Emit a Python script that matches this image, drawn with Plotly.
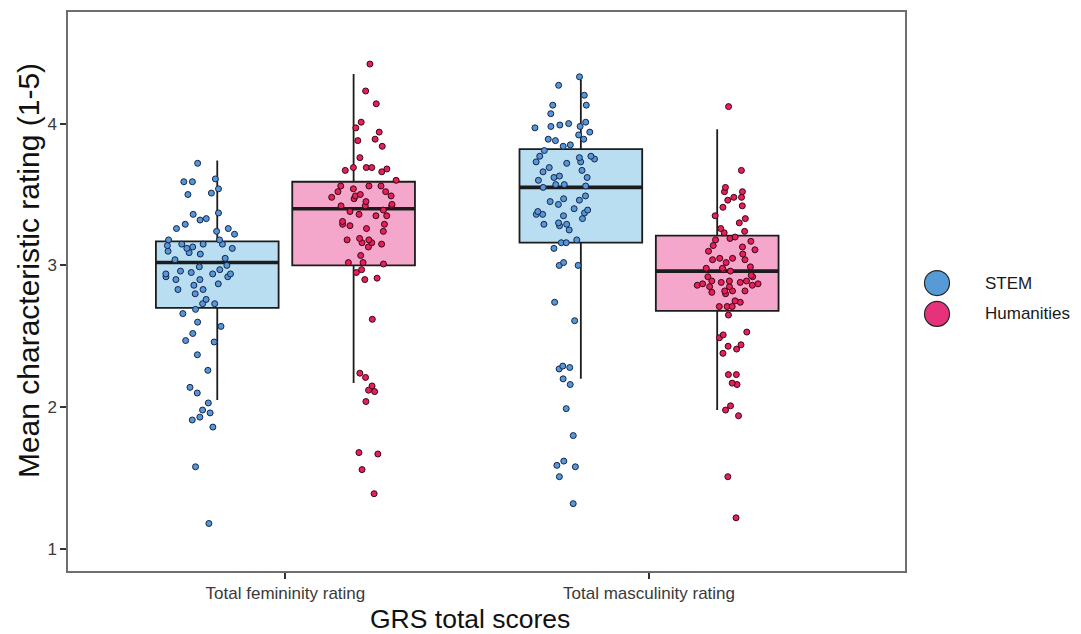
import numpy as np
import plotly.graph_objects as go

# ---------------- data ----------------
categories = ["Total femininity rating", "Total masculinity rating"]
groups = ["STEM", "Humanities"]

stem_fem = [3.72, 3.61, 3.59, 3.59, 3.54, 3.50, 3.51, 3.33, 3.37, 3.36, 3.32, 3.29,
            3.26, 3.26, 3.24, 3.22, 3.18, 3.13, 3.15, 3.15, 3.14, 3.15, 3.18, 3.12,
            3.10, 3.12, 3.09, 3.08, 3.05, 3.04, 3.00, 2.99, 2.96, 2.94, 2.94, 2.92,
            2.95, 2.94, 2.92, 2.90, 2.97, 2.90, 2.87, 2.86, 2.83, 2.83, 2.80, 2.76,
            2.73, 2.73, 2.69, 2.66, 2.60, 2.57, 2.52, 2.47, 2.46, 2.37, 2.26, 2.14,
            2.10, 2.03, 1.98, 1.96, 1.93, 1.91, 1.86, 1.58, 1.18]
hum_fem = [4.42, 4.23, 4.14, 4.01, 3.97, 3.94, 3.88, 3.89, 3.84, 3.76, 3.68, 3.69,
           3.69, 3.69, 3.66, 3.67, 3.60, 3.54, 3.49, 3.56, 3.56, 3.56, 3.52, 3.52,
           3.50, 3.48, 3.49, 3.47, 3.45, 3.42, 3.42, 3.43, 3.42, 3.39, 3.38, 3.35,
           3.36, 3.35, 3.31, 3.28, 3.29, 3.29, 3.26, 3.18, 3.18, 3.19, 3.16, 3.15,
           3.16, 3.24, 3.13, 3.07, 3.02, 3.02, 3.01, 2.97, 2.95, 2.91, 2.90, 2.62,
           2.21, 2.24, 2.15, 2.12, 2.11, 2.04, 1.67, 1.68, 1.56, 1.39]
stem_masc = [4.33, 4.27, 4.20, 4.13, 4.13, 4.07, 4.01, 4.00, 3.99, 3.98, 3.98, 3.97,
             3.94, 3.92, 3.88, 3.89, 3.89, 3.85, 3.84, 3.81, 3.77, 3.77, 3.76, 3.75,
             3.73, 3.72, 3.73, 3.69, 3.66, 3.67, 3.63, 3.62, 3.62, 3.60, 3.57, 3.57,
             3.56, 3.55, 3.49, 3.47, 3.46, 3.45, 3.43, 3.40, 3.39, 3.38, 3.37, 3.36,
             3.36, 3.35, 3.33, 3.30, 3.29, 3.29, 3.28, 3.25, 3.18, 3.16, 3.16, 3.12,
             3.02, 3.00, 3.00, 2.74, 2.61, 2.29, 2.28, 2.27, 2.20, 2.16, 1.99, 1.80,
             1.62, 1.59, 1.58, 1.51, 1.32]
hum_masc = [4.12, 3.67, 3.55, 3.52, 3.52, 3.48, 3.48, 3.46, 3.41, 3.42, 3.35, 3.33,
            3.30, 3.26, 3.24, 3.23, 3.20, 3.19, 3.18, 3.17, 3.14, 3.13, 3.11, 3.10,
            3.08, 3.05, 3.05, 3.04, 3.02, 3.04, 2.98, 2.99, 2.98, 2.97, 2.96, 2.93,
            2.92, 2.92, 2.89, 2.88, 2.88, 2.89, 2.89, 2.86, 2.86, 2.82, 2.82, 2.87,
            2.85, 2.87, 2.85, 2.81, 2.82, 2.80, 2.75, 2.74, 2.71, 2.71, 2.71, 2.65,
            2.53, 2.51, 2.49, 2.44, 2.43, 2.41, 2.38, 2.23, 2.23, 2.16, 2.17, 2.01,
            1.98, 1.94, 1.51, 1.22]

# box statistics (order: STEM fem, Hum fem, STEM masc, Hum masc)
box_lowerfence = [2.05, 2.17, 2.20, 1.98]
box_q1 = [2.70, 3.00, 3.16, 2.68]
box_median = [3.02, 3.40, 3.55, 2.96]
box_q3 = [3.17, 3.59, 3.82, 3.21]
box_upperfence = [3.74, 4.35, 4.31, 3.96]

y_ticks = [1, 2, 3, 4]

# ---------------- styling ----------------
box_fill = {"STEM": "#b9def2", "Humanities": "#f4a6cb"}
pt_fill = {"STEM": "#5698d6", "Humanities": "#e6205a"}
pt_line = {"STEM": "#15244d", "Humanities": "#3b0614"}
legend_fill = {"STEM": "#569bd6", "Humanities": "#e6327a"}

DODGE = 0.1875
BOX_W = 0.3375
pt_pos = {"STEM": -0.23, "Humanities": 0.25}
pt_jit = [0.75, 0.65, 0.6, 0.7]

series = [("STEM", 0, stem_fem), ("Humanities", 0, hum_fem),
          ("STEM", 1, stem_masc), ("Humanities", 1, hum_masc)]

fig = go.Figure()
for i, (g, ci, vals) in enumerate(series):
    pos = ci + (-DODGE if g == "STEM" else DODGE)
    # box
    fig.add_trace(go.Box(
        x=[pos], q1=[box_q1[i]], median=[box_median[i]], q3=[box_q3[i]],
        lowerfence=[box_lowerfence[i]], upperfence=[box_upperfence[i]],
        width=BOX_W, fillcolor=box_fill[g], line=dict(color="#1c1c1c", width=1.8),
        whiskerwidth=0, boxpoints=False, showlegend=False, hoverinfo="skip"))
    # thick median
    m = box_median[i]
    fig.add_trace(go.Box(
        x=[pos], q1=[m], median=[m], q3=[m], lowerfence=[m], upperfence=[m],
        width=BOX_W, fillcolor="rgba(0,0,0,0)", line=dict(color="#1c1c1c", width=3.6),
        whiskerwidth=0, boxpoints=False, showlegend=False, hoverinfo="skip"))
    # jittered points
    fig.add_trace(go.Box(
        y=vals, x0=pos, width=BOX_W, boxpoints="all", jitter=pt_jit[i],
        pointpos=pt_pos[g], fillcolor="rgba(0,0,0,0)",
        line=dict(color="rgba(0,0,0,0)", width=0),
        marker=dict(color=pt_fill[g], size=6, line=dict(color=pt_line[g], width=1)),
        showlegend=False, hoverinfo="y"))

# page has an 8px body margin: figure pixels = page pixels - 8
OFF = 8
W, H = 1081 - OFF, 634 - OFF
PL, PR, PT, PB = 68 - OFF, 905 - OFF, 10 - OFF, 571 - OFF
pw, ph = PR - PL, PB - PT


def px_x(page_x):
    return (page_x - OFF - PL) / pw


def px_y(page_y):
    return (PB - (page_y - OFF)) / ph


# legend drawn as keys + labels
legend_y = {"STEM": 282, "Humanities": 313}
for g in groups:
    yp = px_y(legend_y[g])
    fig.add_shape(type="circle", xref="paper", yref="paper",
                  xsizemode="pixel", ysizemode="pixel", xanchor=px_x(937), yanchor=yp,
                  x0=-12.5, x1=12.5, y0=-12.5, y1=12.5,
                  fillcolor=legend_fill[g], line=dict(color="#262626", width=1.2))
    fig.add_annotation(text=g, xref="paper", yref="paper", x=px_x(983), y=yp,
                       xanchor="left", yanchor="middle", showarrow=False,
                       font=dict(size=17, color="#1a1a1a"))

# axis titles
fig.add_annotation(text="GRS total scores", xref="paper", yref="paper",
                   x=px_x(470), y=px_y(619), xanchor="center", yanchor="middle",
                   showarrow=False, font=dict(size=26.5, color="#111111"))
fig.add_annotation(text="Mean characteristic rating (1-5)", xref="paper", yref="paper",
                   x=px_x(28), y=px_y(270), xanchor="center", yanchor="middle",
                   textangle=-90, showarrow=False, font=dict(size=30, color="#111111"))

fig.update_layout(
    width=W, height=H,
    margin=dict(l=PL, r=W - PR, t=PT, b=H - PB),
    paper_bgcolor="white", plot_bgcolor="white",
    font=dict(family="Liberation Sans, Arial, sans-serif"),
    boxmode="overlay", showlegend=False,
    xaxis=dict(range=[-0.598, 1.704], tickvals=[0, 1], ticktext=categories,
               showgrid=False, zeroline=False, showline=True, mirror=True,
               linecolor="#6e6e6e", linewidth=1.5, ticks="outside", ticklen=6,
               tickcolor="#333333", tickwidth=1.5,
               tickfont=dict(size=17, color="#3a3a3a")),
    yaxis=dict(range=[0.845, 4.787], tickvals=y_ticks,
               showgrid=False, zeroline=False, showline=True, mirror=True,
               linecolor="#6e6e6e", linewidth=1.5, ticks="outside", ticklen=6,
               tickcolor="#333333", tickwidth=1.5,
               tickfont=dict(size=17, color="#3a3a3a")),
)

fig.write_html("out.html")
